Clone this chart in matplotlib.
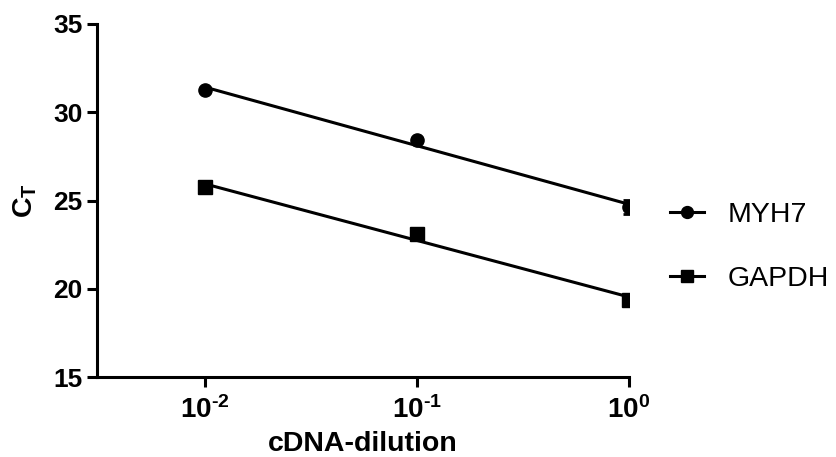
import numpy as np
import matplotlib
matplotlib.use("Agg")
import matplotlib.pyplot as plt
from matplotlib.lines import Line2D

plt.rcParams['font.family'] = ['Liberation Sans', 'DejaVu Sans']
plt.rcParams['mathtext.fontset'] = 'custom'
plt.rcParams['mathtext.rm'] = 'Liberation Sans:bold'
plt.rcParams['mathtext.bf'] = 'Liberation Sans:bold'
plt.rcParams['mathtext.it'] = 'Liberation Sans:bold'

dilution = [0.01, 0.1, 1.0]
myh7 = [31.26, 28.43, 24.63]
myh7_err = [0.12, 0.12, 0.4]
gapdh = [25.76, 23.10, 19.36]
gapdh_err = [0.1, 0.12, 0.15]
series_names = ['MYH7', 'GAPDH']
xtick_labels = [r'$\mathbf{10^{\text{-}2}}$', r'$\mathbf{10^{\text{-}1}}$', r'$\mathbf{10^{0}}$']
yticks = [15, 20, 25, 30, 35]

fig = plt.figure(figsize=(8.36, 4.57), dpi=100)
ax = fig.add_axes([0.116, 0.175, 0.636, 0.7725])

lw = 2.2
styles = [('o', 9.5), ('s', 9.5)]
handles = []
for vals, errs, (mk, ms) in zip([myh7, gapdh], [myh7_err, gapdh_err], styles):
    x = np.array(dilution)
    y = np.array(vals)
    ax.errorbar(x, y, yerr=errs, fmt=mk, ms=ms, color='black', ecolor='black',
                elinewidth=2, capsize=4, capthick=2, zorder=3)
    p = np.polyfit(np.log10(x), y, 1)
    xf = np.log10(x)
    ax.plot(x, np.polyval(p, xf), color='black', lw=lw, zorder=2)
    handles.append(Line2D([], [], color='black', lw=lw, marker=mk, ms=ms * 0.9))

ax.set_xscale('log')
ax.set_xlim(10 ** -2.51, 10 ** 0.0)
ax.set_ylim(15, 35)
ax.set_yticks(yticks)
ax.set_xticks(dilution)
ax.set_xticklabels(xtick_labels)
ax.minorticks_off()

for s in ['top', 'right']:
    ax.spines[s].set_visible(False)
for s in ['left', 'bottom']:
    ax.spines[s].set_linewidth(2.2)
ax.tick_params(axis='both', direction='out', width=2.2, length=7.5, labelsize=20, pad=3)
ax.tick_params(axis='x', pad=6)
ax.tick_params(axis='y', labelsize=19)
for lab in ax.get_yticklabels():
    lab.set_fontweight('bold')

ax.set_xlabel('cDNA-dilution', fontsize=20.5, fontweight='bold', labelpad=5)
ax.set_ylabel(r'$\mathbf{C_T}$', fontsize=20.5, labelpad=10)

fig.legend(handles, series_names, loc='center left', bbox_to_anchor=(0.771, 0.459),
           frameon=False, fontsize=20.5, handlelength=1.2, handletextpad=0.8,
           labelspacing=1.35)

fig.savefig('out.png', dpi=100)
